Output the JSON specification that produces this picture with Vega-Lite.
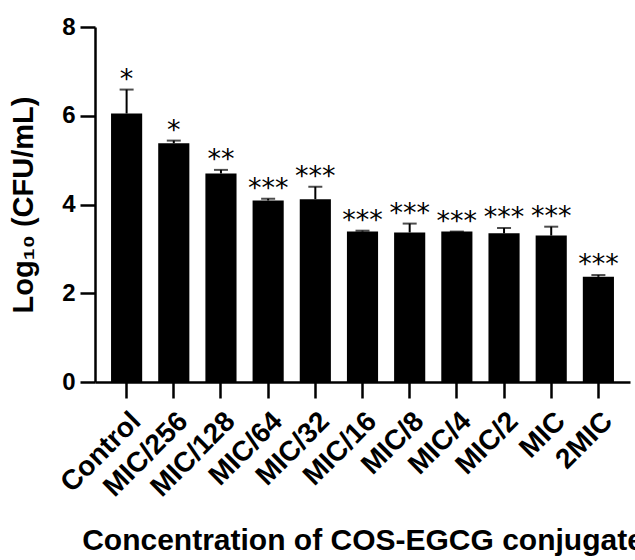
{
  "$schema": "https://vega.github.io/schema/vega-lite/v6.json",
  "width": 535,
  "height": 355,
  "autosize": {"type": "none"},
  "padding": {"left": 95, "top": 27, "right": 5, "bottom": 178},
  "background": "white",
  "config": {
    "view": {"stroke": null},
    "font": "Liberation Sans",
    "axis": {
      "domainColor": "black",
      "domainWidth": 2.5,
      "tickColor": "black",
      "tickWidth": 2.5,
      "labelColor": "black",
      "titleColor": "black",
      "labelFont": "Liberation Sans",
      "titleFont": "Liberation Sans",
      "labelFontWeight": "bold",
      "titleFontWeight": "bold",
      "grid": false
    }
  },
  "data": {
    "values": [
      {"group": "Control", "mean": 6.05, "upper": 6.59, "sig": "*"},
      {"group": "MIC/256", "mean": 5.38, "upper": 5.44, "sig": "*"},
      {"group": "MIC/128", "mean": 4.70, "upper": 4.78, "sig": "**"},
      {"group": "MIC/64", "mean": 4.09, "upper": 4.13, "sig": "***"},
      {"group": "MIC/32", "mean": 4.12, "upper": 4.40, "sig": "***"},
      {"group": "MIC/16", "mean": 3.39, "upper": 3.41, "sig": "***"},
      {"group": "MIC/8", "mean": 3.37, "upper": 3.57, "sig": "***"},
      {"group": "MIC/4", "mean": 3.39, "upper": 3.39, "sig": "***"},
      {"group": "MIC/2", "mean": 3.35, "upper": 3.47, "sig": "***"},
      {"group": "MIC", "mean": 3.30, "upper": 3.50, "sig": "***"},
      {"group": "2MIC", "mean": 2.37, "upper": 2.41, "sig": "***"}
    ]
  },
  "encoding": {
    "x": {
      "field": "group",
      "type": "nominal",
      "sort": null,
      "scale": {"paddingInner": 0.34, "paddingOuter": 0.34},
      "axis": {
        "title": "Concentration of COS-EGCG conjugate",
        "titleFontSize": 30,
        "titleBaseline": "alphabetic",
        "titleY": 167,
        "labelAngle": -45,
        "labelAlign": "right",
        "labelBaseline": "top",
        "labelFontSize": 28,
        "labelPadding": 9,
        "labelOverlap": false,
        "labelBound": false,
        "labelFlush": false,
        "tickSize": 16
      }
    }
  },
  "layer": [
    {
      "mark": {"type": "bar", "color": "black"},
      "encoding": {
        "y": {
          "field": "mean",
          "type": "quantitative",
          "scale": {"domain": [0, 8], "nice": false},
          "axis": {
            "title": "Log₁₀ (CFU/mL)",
            "titleFontSize": 29,
            "titleX": -63,
            "titleY": 177.5,
            "titleBaseline": "alphabetic",
            "values": [0, 2, 4, 6, 8],
            "labelFontSize": 24,
            "labelPadding": 5,
            "tickSize": 15
          }
        }
      }
    },
    {
      "mark": {"type": "rule", "color": "black", "strokeWidth": 2},
      "encoding": {
        "y": {"field": "mean", "type": "quantitative"},
        "y2": {"field": "upper"}
      }
    },
    {
      "mark": {"type": "tick", "color": "black", "thickness": 2, "size": 14},
      "encoding": {
        "y": {"field": "upper", "type": "quantitative"}
      }
    },
    {
      "mark": {"type": "text", "font": "DejaVu Sans", "fontSize": 27, "baseline": "alphabetic", "dy": -2, "color": "black"},
      "encoding": {
        "y": {"field": "upper", "type": "quantitative"},
        "text": {"field": "sig"}
      }
    }
  ]
}
